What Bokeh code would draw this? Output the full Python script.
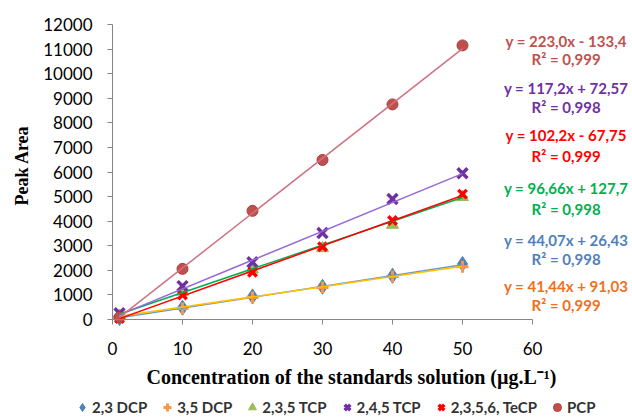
import math
from bokeh.plotting import figure
from bokeh.models import Legend, LegendItem, FixedTicker
from bokeh.core.properties import value
from bokeh.embed import file_html
from bokeh.resources import INLINE

# ---- data ----
conc = [1, 10, 20, 30, 40, 50]
dcp23 = [60, 480, 940, 1330, 1780, 2260]
dcp35 = [110, 450, 900, 1300, 1750, 2150]
tcp235 = [150, 1130, 2030, 2900, 3850, 4980]
tcp245 = [260, 1360, 2330, 3520, 4900, 5950]
tecp = [40, 1000, 1920, 2960, 4030, 5100]
pcp = [90, 2060, 4420, 6490, 8750, 11150]

series_names = ["2,3 DCP", "3,5 DCP", "2,3,5 TCP", "2,4,5 TCP", "2,3,5,6, TeCP", "PCP"]
series_values = [dcp23, dcp35, tcp235, tcp245, tecp, pcp]
slopes = [44.07, 41.44, 96.66, 117.2, 102.2, 223.0]
intercepts = [26.43, 91.03, 127.7, 72.57, -67.75, -133.4]
equations = ["y = 44,07x + 26,43", "y = 41,44x + 91,03", "y = 96,66x + 127,7",
             "y = 117,2x + 72,57", "y = 102,2x - 67,75", "y = 223,0x - 133,4"]
r2_texts = ["R\u00b2 = 0,998", "R\u00b2 = 0,999", "R\u00b2 = 0,998",
            "R\u00b2 = 0,998", "R\u00b2 = 0,999", "R\u00b2 = 0,999"]

y_ticks = list(range(0, 12001, 1000))
x_ticks = list(range(0, 61, 10))
x_title = "Concentration of the standards solution (\u00b5g.L\u207b\u00b9)"
y_title = "Peak Area"

# ---- styles / layout ----
W, H = 632, 417
X0_PX, PX_PER_X = 112, 7.0          # x = 0 at 112 px, 7 px per unit
Y0_PX, PX_PER_Y = 319, 0.024583     # y = 0 at 319 px from top
x_lo = -X0_PX / PX_PER_X
x_hi = (W - X0_PX) / PX_PER_X
y_hi = Y0_PX / PX_PER_Y
y_lo = -(H - Y0_PX) / PX_PER_Y

markers = ["diamond", "cross", "triangle", "x", "x", "circle"]
marker_colors = ["#4F81BD", "#F79646", "#9BBB59", "#7030A0", "#FF0000", "#C0504D"]
marker_edge = ["#4F81BD", "#F79646", "#9BBB59", "#7030A0", "#FF0000", "#A83F3C"]
marker_sizes = [15, 12, 12, 14, 12, 11]
marker_lw = [1, 3, 1, 3.5, 3.5, 1]
line_colors = ["#6F95C8", "#FFC000", "#00B050", "#9966D6", "#FF0000", "#D07080"]
eq_colors = ["#4F81BD", "#F07020", "#00B050", "#7030A0", "#FF0000", "#C0504D"]
eq_x = 64.8
eq_y = [3214, 1383, 5329, 9437, 7485, 11349]
r2_y = [2441, 570, 4515, 8624, 6671, 10617]

p = figure(width=W, height=H, x_range=(x_lo, x_hi), y_range=(y_lo, y_hi),
           output_backend="svg", toolbar_location=None,
           min_border_left=0, min_border_right=0, min_border_top=0, min_border_bottom=0)
p.outline_line_color = None
p.xgrid.visible = False
p.ygrid.visible = False

legend_items = []
for i, (name, vals) in enumerate(zip(series_names, series_values)):
    r = p.scatter(conc, vals, marker=markers[i], size=marker_sizes[i],
                  line_color=marker_edge[i], fill_color=marker_colors[i],
                  line_width=marker_lw[i])
    legend_items.append(LegendItem(label=name, renderers=[r]))

for i in range(len(series_names)):
    xs = [min(conc), max(conc)]
    ys = [slopes[i] * xv + intercepts[i] for xv in xs]
    p.line(xs, ys, line_color=line_colors[i], line_width=1.5)

# trendline equations
for i in range(len(series_names)):
    p.text([eq_x, eq_x], [eq_y[i], r2_y[i]], text=[equations[i], r2_texts[i]],
           text_align="center", text_baseline="middle", text_font=value("Lato"),
           text_font_style="bold", text_font_size="15px", text_color=eq_colors[i])

# axis titles
p.text([34.14], [-2359], text=[x_title], text_align="center", text_baseline="middle",
       text_font=value("Liberation Serif"), text_font_style="bold",
       text_font_size="20px", text_color="#000000")
p.text([-13], [6264], text=[y_title], angle=math.pi / 2, text_align="center",
       text_baseline="middle", text_font=value("Liberation Serif"),
       text_font_style="bold", text_font_size="18px", text_color="#000000")

for ax in (p.xaxis[0], p.yaxis[0]):
    ax.fixed_location = 0
    ax.axis_line_color = "#868686"
    ax.major_tick_line_color = "#868686"
    ax.major_tick_in = 0
    ax.major_tick_out = 5
    ax.minor_tick_line_color = None
    ax.major_label_text_font = "Lato"
    ax.major_label_text_font_size = "17px"
    ax.major_label_text_color = "#000000"

p.xaxis.ticker = FixedTicker(ticks=x_ticks)
p.yaxis.ticker = FixedTicker(ticks=y_ticks)
p.xaxis.bounds = (0, 60)
p.yaxis.bounds = (0, 12000)
p.xaxis.major_label_standoff = 17
p.yaxis.major_label_standoff = 15

legend = Legend(items=legend_items, orientation="horizontal", location=(72, 0),
                border_line_color=None, background_fill_alpha=0,
                label_text_font="Lato", label_text_font_style="bold", label_text_font_size="15px",
                label_text_color="#333333", glyph_width=20, glyph_height=20, label_standoff=0,
                spacing=10, padding=0, margin=0, label_height=20)
p.add_layout(legend, "center")

open("out.html", "w").write(file_html(p, INLINE))
